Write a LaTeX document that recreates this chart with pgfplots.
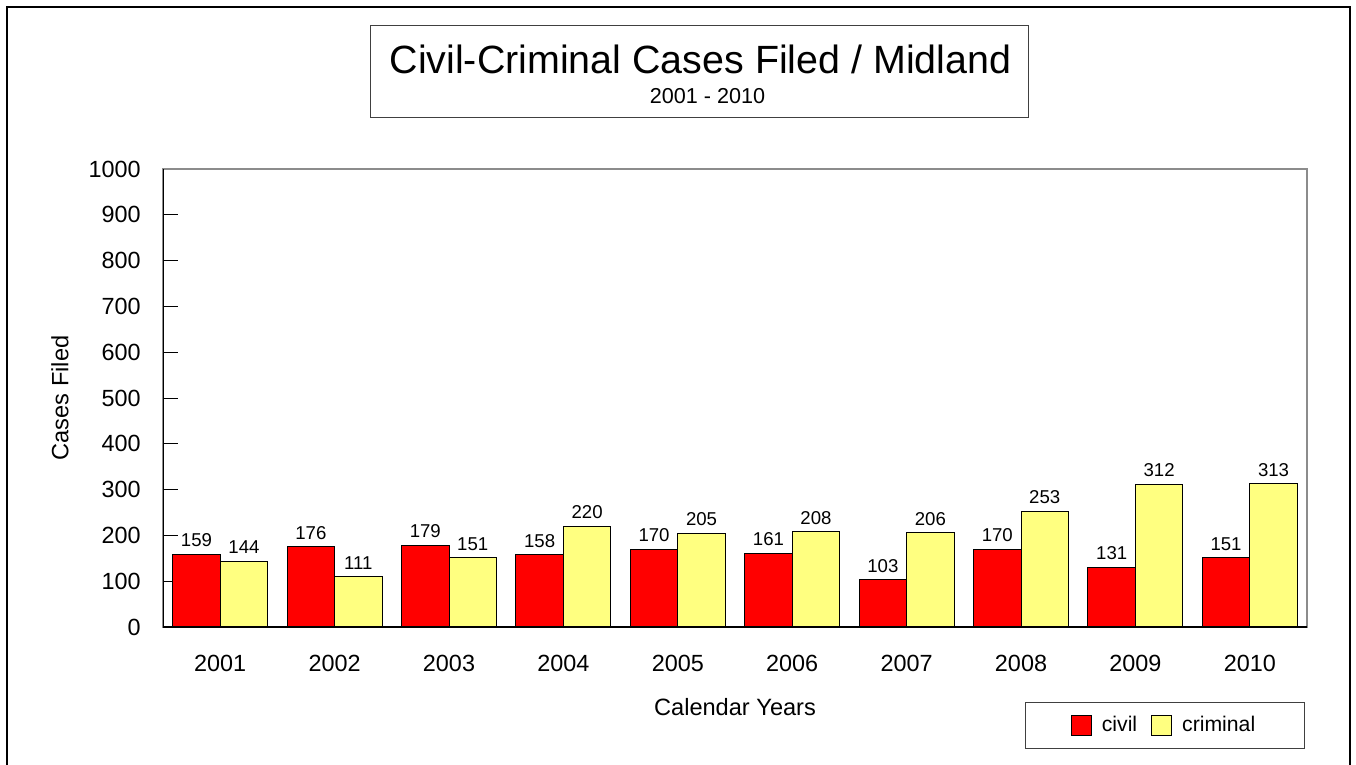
\documentclass[border=0pt]{standalone}
\usepackage{pgfplots}
\pgfplotsset{compat=1.18}
\usepackage{fontspec}
\setmainfont{Liberation Sans}
\definecolor{barred}{RGB}{255,0,0}
\definecolor{baryel}{RGB}{255,255,128}
\pgfplotstableread{
x civil criminal
0 159 144
1 176 111
2 179 151
3 158 220
4 170 205
5 161 208
6 103 206
7 170 253
8 131 312
9 151 313
}\datatable
\begin{document}
\begin{tikzpicture}
\useasboundingbox (0,0) rectangle (678pt,-382.5pt);
\draw[line width=1pt] (3.5pt,-3.5pt) rectangle (675pt,-420pt);
\draw[line width=0.5pt, black!75] (185pt,-13pt) rectangle (514pt,-59pt);
\node[font=\fontsize{19.7}{22}\selectfont, inner sep=0pt] at (350.25pt,-29.5pt) {Civil-Criminal Cases Filed / Midland};
\node[font=\fontsize{10.8}{12}\selectfont, inner sep=0pt] at (353.75pt,-48pt) {2001 - 2010};
\begin{axis}[
  at={(81.5pt,-313.5pt)}, anchor=south west,
  width=572pt, height=229pt, scale only axis,
  xmin=-0.5, xmax=9.5, ymin=0, ymax=1000,
  ytick={0,100,...,1000},
  xtick={0,...,9},
  xticklabels={2001,2002,2003,2004,2005,2006,2007,2008,2009,2010},
  /pgf/number format/assume math mode=true,
  /pgf/number format/1000 sep={},
  tick align=inside,
  ytick pos=left,
  major tick length=7.5pt,
  major x tick style={draw=none},
  tick style={black, line width=0.5pt},
  axis line style={black!45, line width=0.6pt},
  ticklabel style={font=\fontsize{11.7}{13}\selectfont},
  yticklabel style={xshift=-7.6pt},
  xticklabel style={yshift=-3pt},
  ybar=0pt, bar width=0.415,
  ylabel={Cases Filed},
  xlabel={Calendar Years},
  label style={font=\fontsize{11.8}{13}\selectfont},
  ylabel style={at={(axis description cs:-0.09,0.5)}, anchor=center},
  xlabel style={at={(axis description cs:0.5,-0.1747)}, anchor=center},
  nodes near coords,
  every node near coord/.append style={font=\fontsize{9.3}{10}\selectfont, black},
  legend columns=2,
  legend style={at={(0.998,-0.1638)}, anchor=north east, draw=black!75, line width=0.5pt,
    font=\fontsize{10.6}{12}\selectfont, inner xsep=22.5pt, inner ysep=5pt,
    /tikz/every odd column/.append style={column sep=3pt},
    /tikz/every even column/.append style={column sep=5pt}},
  legend image code/.code={\draw[#1, line width=0.5pt] (0pt,-5pt) rectangle (10pt,5pt);},
]
\addplot[fill=barred, draw=black, line width=0.5pt] table[x=x, y=civil] {\datatable};
\addplot[fill=baryel, draw=black, line width=0.5pt] table[x=x, y=criminal] {\datatable};
\legend{civil, criminal}
\draw[black, line width=0.6pt] (rel axis cs:0,1) -- (rel axis cs:0,0) -- (rel axis cs:1,0);
\end{axis}
\end{tikzpicture}
\end{document}
